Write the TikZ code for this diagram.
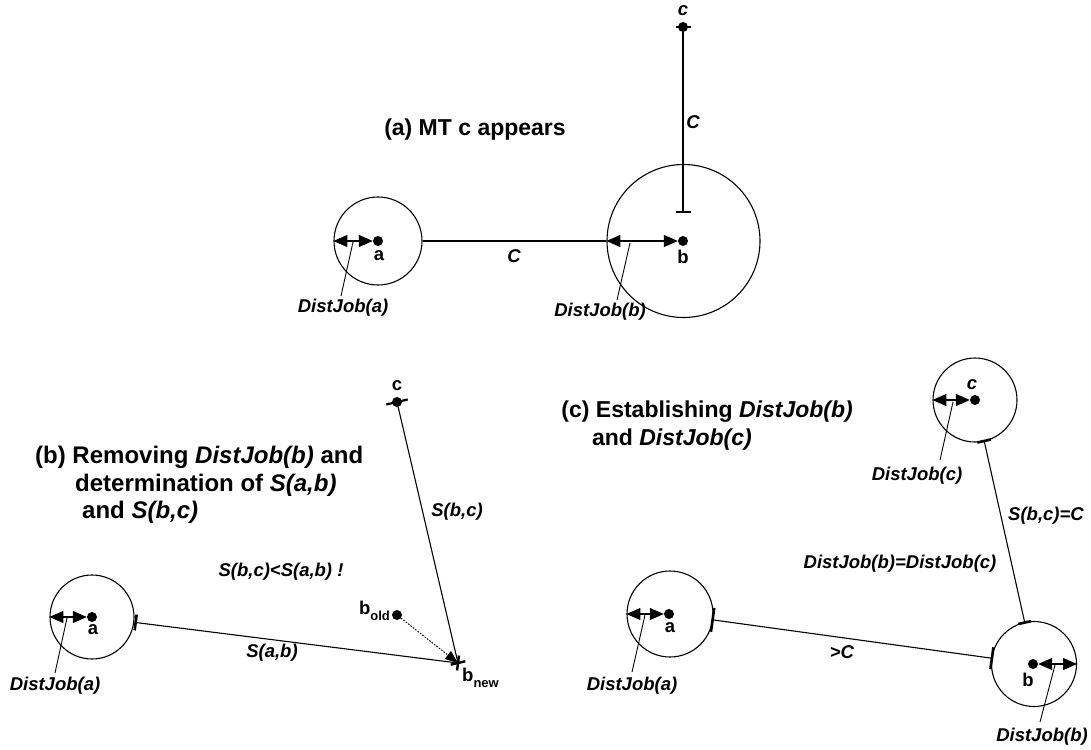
\documentclass[tikz,border=0pt]{standalone}
\usepackage{fontspec}
\setmainfont{Liberation Sans}
\usetikzlibrary{arrows.meta,calc}
\begin{document}
\begin{tikzpicture}[x=1pt,y=-1pt,
  ring/.style={circle, draw, line width=1.1pt, inner sep=0pt},
  dot/.style={circle, fill, inner sep=0pt, minimum size=10pt},
  conn/.style={line width=1.1pt},
  tickm/.style={line width=2.6pt},
  lead/.style={line width=0.9pt},
  dbl/.style={line width=1.1pt, {Triangle[length=14pt,width=12pt]}-{Triangle[length=14pt,width=12pt]}},
  lbl/.style={font=\fontsize{18.5}{20}\selectfont\bfseries, inner sep=0pt},
  ilbl/.style={font=\fontsize{18.5}{20}\selectfont\bfseries\itshape, inner sep=0pt},
  title/.style={font=\fontsize{23}{26}\selectfont\bfseries, inner sep=0pt},
  titleb/.style={font=\fontsize{24}{27}\selectfont\bfseries, inner sep=0pt}
]
\useasboundingbox (0,0) rectangle (1091,749);

% ---------------- panel (a)
\node[title] (ta) at (475,130) {(a) MT c appears};
\node[ring, minimum size=88pt] (A1) at (378,241) {};
\node[dot] (a1) at (378,241) {};
\node[lbl] (la1) at (379,256) {a};
\draw[dbl] (A1.west) -- (a1.west);
\coordinate (pa1) at (353,242);
\coordinate (ea1) at (341,296);
\node[ilbl] (dja1) at (343,308) {DistJob(a)};
\draw[lead] (pa1) -- (ea1);

\node[ring, minimum size=153pt] (B1) at (683.5,241) {};
\node[dot] (b1) at (683,241) {};
\node[lbl] (lb1) at (683,257) {b};
\draw[dbl] (B1.west) -- (b1.west);
\coordinate (pb1) at (630,243);
\coordinate (eb1) at (617,300);
\node[ilbl] (djb1) at (600,312) {DistJob(b)};
\draw[lead] (pb1) -- (eb1);

\draw[conn] (A1.east) -- (B1.west);
\node[ilbl] (C1) at (514,256) {C};

\node[dot] (c1) at (683,27) {};
\node[ilbl] (lc1) at (683,11) {c};
\coordinate (t1) at (683,212);
\draw[conn] (c1) -- (t1);
\draw[line width=2.2pt] ($(c1)+(-7.5,0)$) -- ($(c1)+(7.5,0)$);
\draw[line width=2.2pt] ($(t1)+(-7.5,0)$) -- ($(t1)+(7.5,0)$);
\node[ilbl] (C1v) at (693,122) {C};

% ---------------- panel (b)
\node[titleb, anchor=west] (tb1) at (35,457) {(b) Removing \textit{DistJob(b)} and};
\node[titleb, anchor=west] (tb2) at (75,485) {determination of \textit{S(a,b)}};
\node[titleb, anchor=west] (tb3) at (82,512) {and \textit{S(b,c)}};

\node[ring, minimum size=84pt] (A2) at (92,617) {};
\node[dot] (a2) at (92,617) {};
\node[lbl] (la2) at (93,630) {a};
\draw[dbl] (A2.west) -- (a2.west);
\coordinate (pa2) at (67,618);
\coordinate (ea2) at (55,673);
\node[ilbl] (dja2) at (55,686) {DistJob(a)};
\draw[lead] (pa2) -- (ea2);

\coordinate (bnew) at (458,663);
\node[dot] (c2) at (397,402) {};
\node[lbl] (lc2) at (397,386) {c};
\coordinate (sab) at ($(A2.center)!44pt!(bnew)$);
\draw[conn] (sab) -- (bnew);
\draw[conn] (c2.center) -- (bnew);
\draw[tickm] ($(sab)!8pt!90:(bnew)$) -- ($(sab)!8pt!-90:(bnew)$);
\draw[line width=2.2pt] ($(c2.center)!11pt!90:(bnew)$) -- ($(c2.center)!11pt!-90:(bnew)$);
\draw[line width=2.4pt] ($(bnew)!7.5pt!90:(sab)$) -- ($(bnew)!7.5pt!-90:(sab)$);
\draw[line width=2.4pt] ($(bnew)!7.5pt!90:(c2.center)$) -- ($(bnew)!7.5pt!-90:(c2.center)$);
\node[anchor=west, inner sep=0pt] (lbnew) at (462,678) {\fontsize{18.5}{20}\selectfont\bfseries b\raisebox{-0.55ex}{\fontsize{13}{13}\selectfont new}};

\node[dot] (bold) at (397,615) {};
\node[anchor=east, inner sep=0pt] (lbold) at (390,611) {\fontsize{18.5}{20}\selectfont\bfseries b\raisebox{-0.55ex}{\fontsize{13}{13}\selectfont old}};
\draw[line width=1pt, dash pattern=on 1.5pt off 1.5pt, -{Triangle[length=13pt,width=10pt]}] (bold) -- (bnew);

\node[ilbl] (sbc2) at (457,512) {S(b,c)};
\node[ilbl] (cmp2) at (281,572) {S(b,c)<S(a,b) !};
\node[ilbl] (sab2) at (272,653) {S(a,b)};

% ---------------- panel (c)
\node[title, anchor=east] (tc1) at (853,412) {(c) Establishing \textit{DistJob(b)}};
\node[title, anchor=east] (tc2) at (752,440) {and \textit{DistJob(c)}};

\node[ring, minimum size=86pt] (A3) at (670,614) {};
\node[dot] (a3) at (669,614) {};
\node[lbl] (la3) at (670,628) {a};
\draw[dbl] (A3.west) -- (a3.west);
\coordinate (pa3) at (645,615);
\coordinate (ea3) at (632,672);
\node[ilbl] (dja3) at (632,686) {DistJob(a)};
\draw[lead] (pa3) -- (ea3);

\node[ring, minimum size=84pt] (C3) at (975,400) {};
\node[dot] (c3) at (975,400) {};
\node[ilbl] (lc3) at (972,385) {c};
\draw[dbl] (C3.west) -- (c3.west);
\coordinate (pc3) at (953,402);
\coordinate (ec3) at (940,460);
\node[ilbl] (djc3) at (917,476) {DistJob(c)};
\draw[lead] (pc3) -- (ec3);

\node[ring, minimum size=85pt] (B3) at (1034,664) {};
\node[dot] (b3) at (1033,664) {};
\node[lbl] (lb3) at (1028,680) {b};
\draw[dbl] (b3.east) -- (B3.east);
\coordinate (pb3) at (1055,665);
\coordinate (eb3) at (1040,722);
\node[ilbl] (djb3) at (1042,737) {DistJob(b)};
\draw[lead] (pb3) -- (eb3);

\coordinate (ab1) at ($(A3.center)!43pt!(B3.center)$);
\coordinate (ab2) at ($(B3.center)!42.5pt!(A3.center)$);
\draw[conn] (ab1) -- (ab2);
\draw[tickm] ($(ab1)!12pt!90:(ab2)$) -- ($(ab1)!12pt!-90:(ab2)$);
\draw[tickm] ($(ab2)!11pt!90:(ab1)$) -- ($(ab2)!11pt!-90:(ab1)$);

\coordinate (cb1) at ($(C3.center)!42pt!(B3.center)$);
\coordinate (cb2) at ($(B3.center)!42.5pt!(C3.center)$);
\draw[conn] (cb1) -- (cb2);
\draw[tickm] ($(cb1)!7pt!90:(cb2)$) -- ($(cb1)!7pt!-90:(cb2)$);
\draw[tickm] ($(cb2)!6.5pt!90:(cb1)$) -- ($(cb2)!6.5pt!-90:(cb1)$);

\node[ilbl, anchor=west] (sbc3) at (1008,516) {S(b,c)=C};
\node[ilbl] (eq3) at (900,564) {DistJob(b)=DistJob(c)};
\node[ilbl] (gt3) at (842,652) {>C};
\end{tikzpicture}
\end{document}
